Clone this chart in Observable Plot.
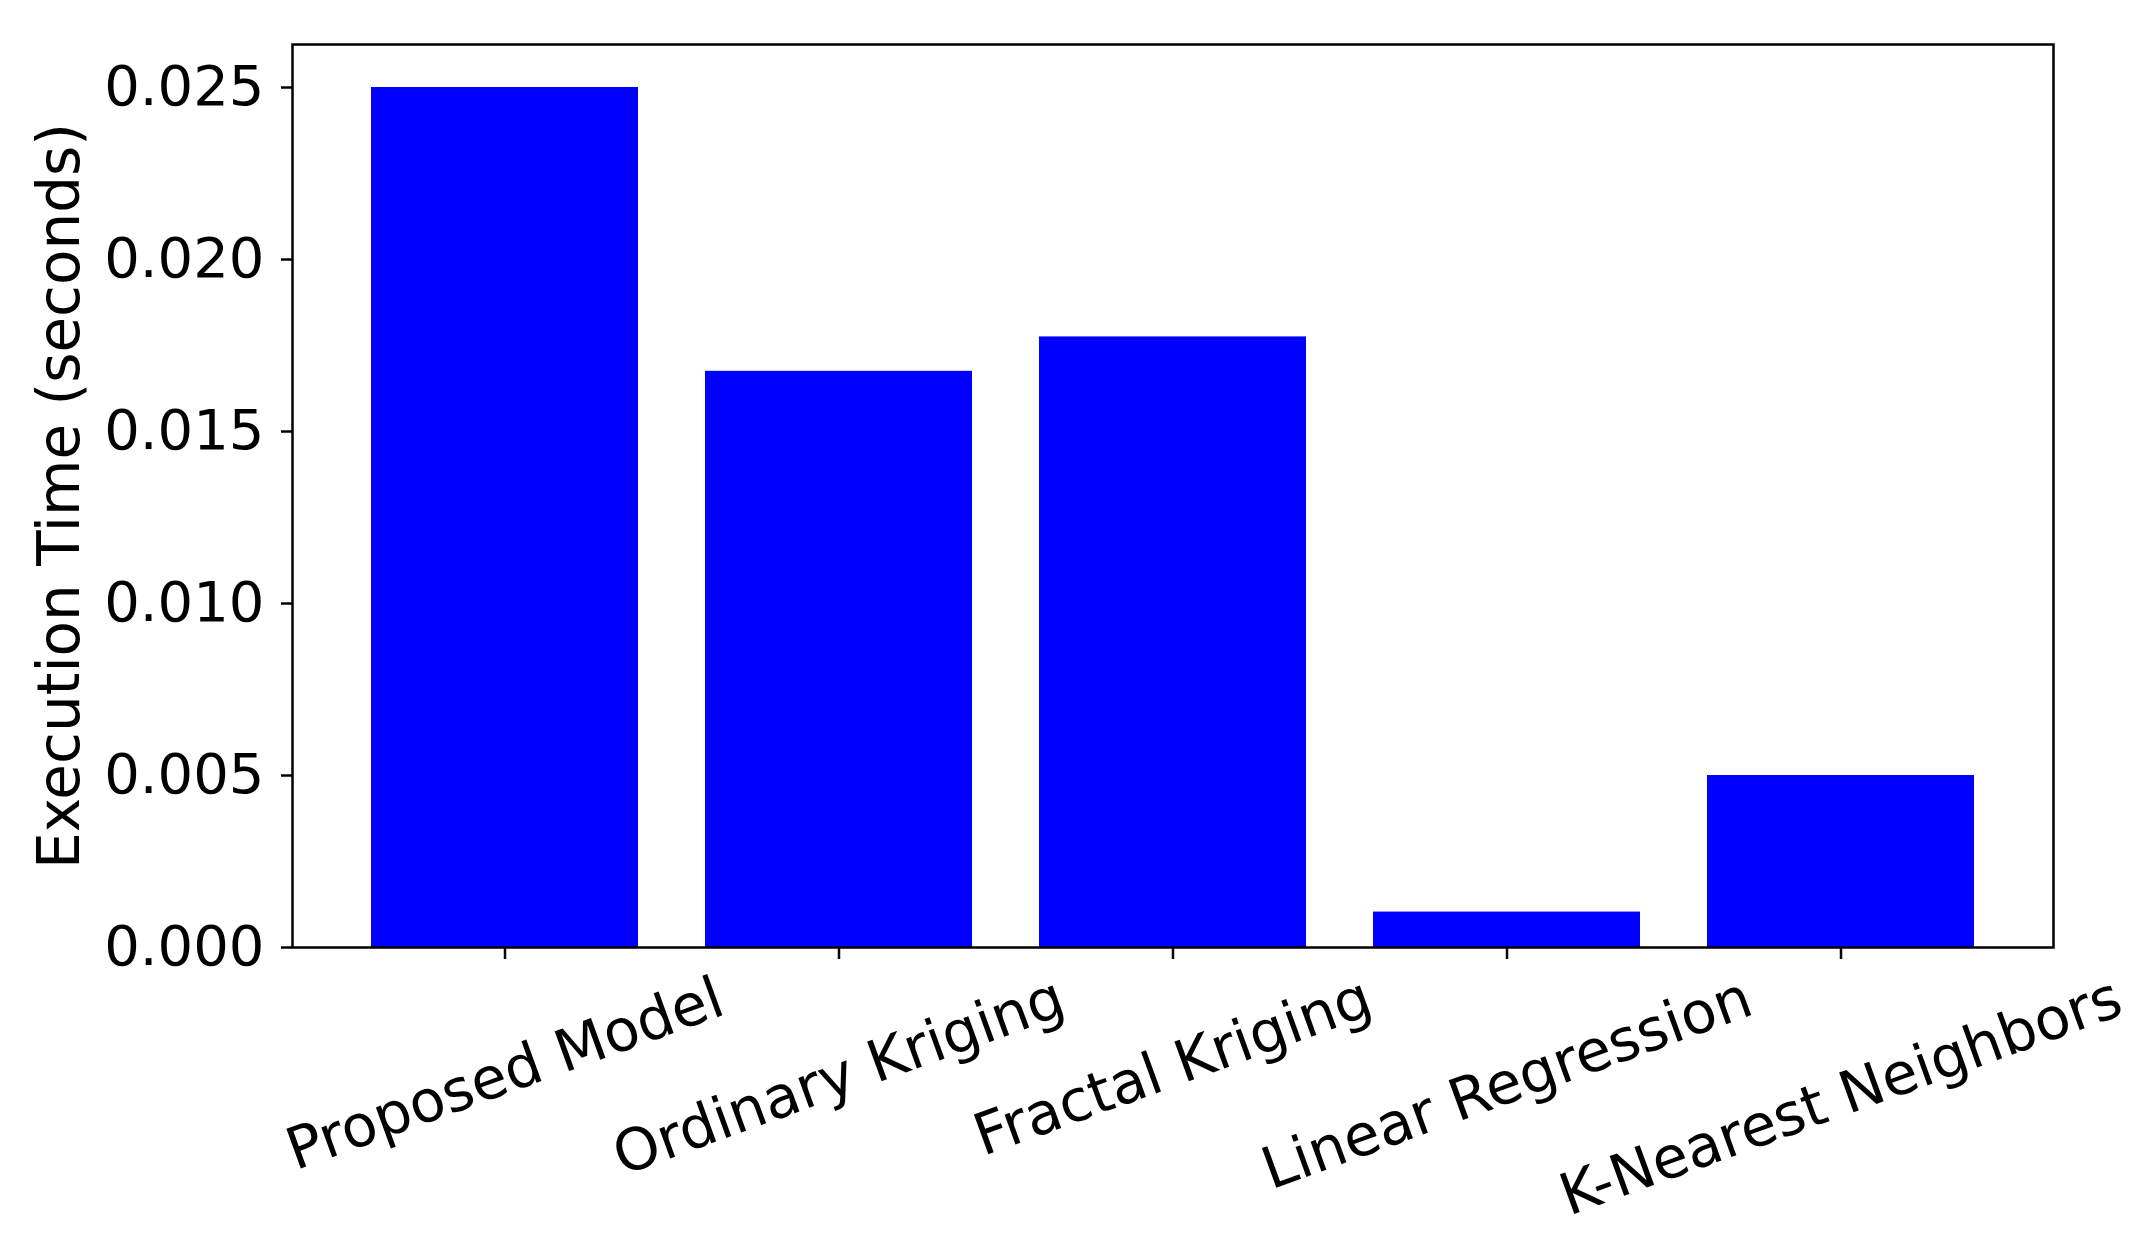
<!DOCTYPE html>
<html>
<head>
<meta charset="utf-8">
<script src="https://cdn.jsdelivr.net/npm/d3@7"></script>
<script src="https://cdn.jsdelivr.net/npm/@observablehq/plot@0.6"></script>
<style>
  html, body { margin: 0; padding: 0; background: #fff; }
  #chart { width: 2141px; height: 1244px; }
</style>
</head>
<body>
<div id="chart"></div>
<script>
const categories = ["Proposed Model", "Ordinary Kriging", "Fractal Kriging", "Linear Regression", "K-Nearest Neighbors"];
const times = [0.025, 0.01675, 0.01775, 0.00103, 0.005];
const yTicks = [0, 0.005, 0.010, 0.015, 0.020, 0.025];
const yLabel = "Execution Time (seconds)";

const data = categories.map((c, i) => ({category: c, time: times[i]}));

const fontSize = 58;
const fontFamily = "DejaVu Sans";
const rot = 20 * Math.PI / 180;
const ctx = document.createElement("canvas").getContext("2d");
ctx.font = `${fontSize}px '${fontFamily}'`;

const tickLen = 12;
const labelMarks = categories.map(c => {
  const w = ctx.measureText(c).width;
  const h = 0.97 * fontSize;
  const dy = tickLen + 10 + (w * Math.sin(rot) + h * Math.cos(rot)) / 2;
  return Plot.text([c], {
    x: d => d,
    frameAnchor: "bottom",
    dy,
    rotate: -20,
    textAnchor: "middle",
    lineAnchor: "middle",
    fill: "black"
  });
});

const chart = Plot.plot({
  width: 2141,
  height: 1244,
  marginTop: 44,
  marginBottom: 297,
  marginLeft: 292,
  marginRight: 88,
  style: {fontFamily: fontFamily, fontSize: fontSize + "px", background: "white", color: "black"},
  x: {domain: categories, paddingInner: 0.2, paddingOuter: 0.236, label: null},
  y: {domain: [0, 0.02625], label: null},
  marks: [
    Plot.barY(data, {x: "category", y: "time", fill: "#0000ff"}),
    Plot.axisY({ticks: yTicks, tickFormat: d3.format(".3f"), tickSize: 11, tickPadding: 17, strokeWidth: 2.5, label: null, fill: "black", stroke: "black", fontSize: 56}),
    Plot.axisX({tickSize: tickLen, tickFormat: () => "", strokeWidth: 2.5, label: null, stroke: "black"}),
    ...labelMarks,
    Plot.text([yLabel], {frameAnchor: "left", dx: -232, rotate: -90, textAnchor: "middle", lineAnchor: "middle", fill: "black"}),
    Plot.frame({stroke: "black", strokeWidth: 2.5})
  ]
});
document.getElementById("chart").appendChild(chart);
</script>
</body>
</html>
